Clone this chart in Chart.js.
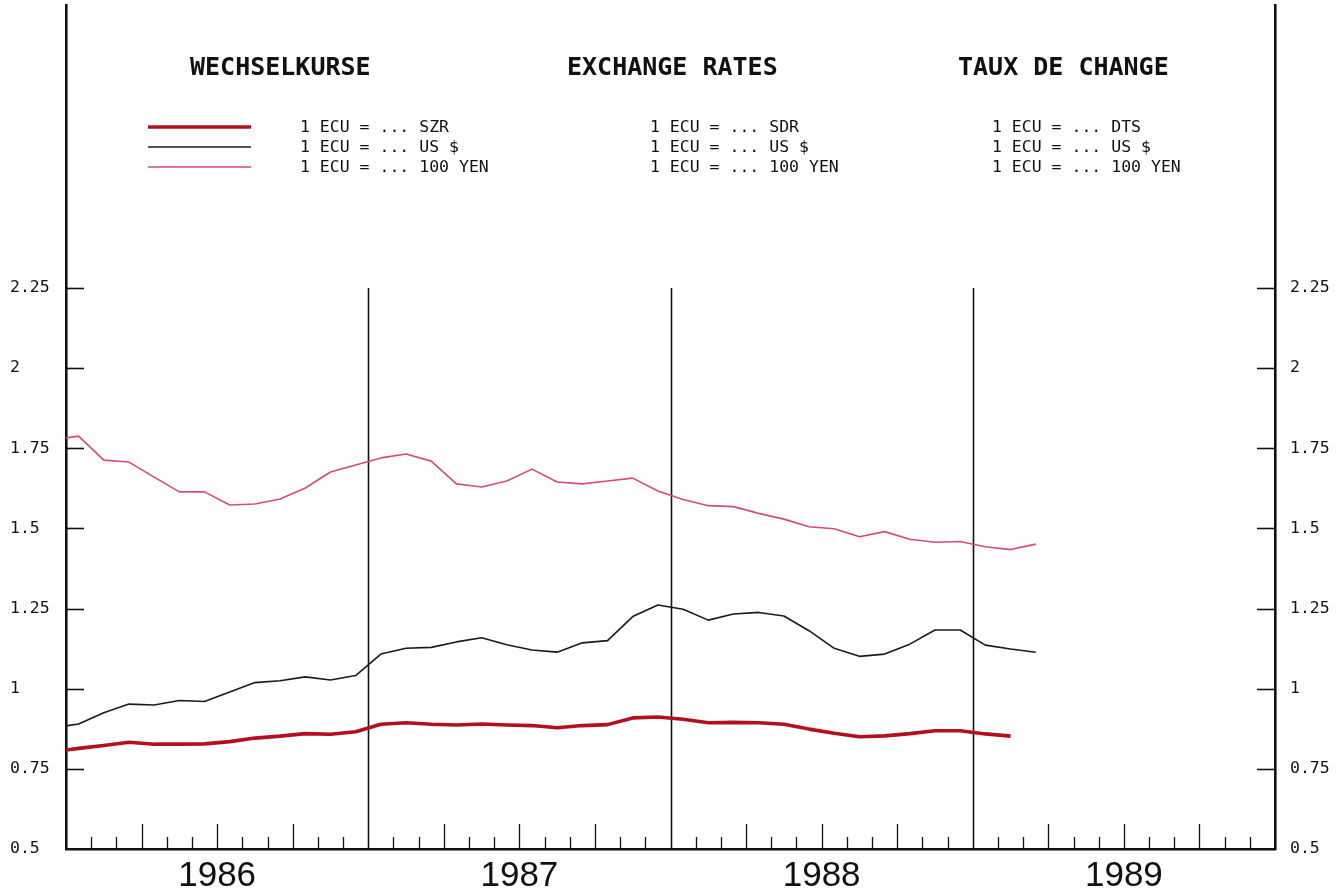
<!DOCTYPE html>
<html>
<head>
<meta charset="utf-8">
<script src="https://cdn.jsdelivr.net/npm/chart.js@4/dist/chart.umd.min.js"></script>
<style>
  html, body { margin: 0; padding: 0; background: #ffffff; }
  #wrap { width: 1344px; height: 894px; position: relative; }
</style>
</head>
<body>
<div id="wrap"><canvas id="c" width="1344" height="894"></canvas></div>
<script>
// ---- data (monthly, Dec 1985 .. Mar 1989; Dec 1985 lies just left of the axis) ----
const months = [
  'Dec 85',
  'Jan 86','Feb 86','Mar 86','Apr 86','May 86','Jun 86','Jul 86','Aug 86','Sep 86','Oct 86','Nov 86','Dec 86',
  'Jan 87','Feb 87','Mar 87','Apr 87','May 87','Jun 87','Jul 87','Aug 87','Sep 87','Oct 87','Nov 87','Dec 87',
  'Jan 88','Feb 88','Mar 88','Apr 88','May 88','Jun 88','Jul 88','Aug 88','Sep 88','Oct 88','Nov 88','Dec 88',
  'Jan 89','Feb 89','Mar 89'
];
const yen100 = [1.777,
  1.788,1.713,1.707,1.660,1.614,1.614,1.573,1.576,1.592,1.626,1.676,1.698,
  1.720,1.732,1.710,1.639,1.629,1.648,1.685,1.645,1.639,1.648,1.657,1.617,
  1.590,1.571,1.568,1.547,1.529,1.505,1.499,1.474,1.490,1.466,1.457,1.459,
  1.443,1.434,1.451];
const usd = [0.878,
  0.890,0.925,0.952,0.949,0.963,0.960,0.990,1.019,1.025,1.037,1.027,1.041,
  1.108,1.126,1.129,1.146,1.159,1.137,1.121,1.114,1.143,1.150,1.225,1.261,
  1.248,1.214,1.233,1.238,1.227,1.181,1.126,1.101,1.108,1.139,1.183,1.183,
  1.136,1.124,1.114];
const sdr = [0.804,
  0.814,0.823,0.833,0.827,0.827,0.828,0.835,0.846,0.852,0.860,0.858,0.866,
  0.889,0.894,0.889,0.887,0.890,0.887,0.885,0.878,0.885,0.888,0.909,0.912,
  0.905,0.894,0.895,0.894,0.889,0.874,0.861,0.850,0.853,0.860,0.869,0.869,
  0.859,0.852];
const years = ['1986','1987','1988','1989'];
const yTicks = [0.5, 0.75, 1, 1.25, 1.5, 1.75, 2, 2.25];
const titles = ['WECHSELKURSE', 'EXCHANGE RATES', 'TAUX DE CHANGE'];
const legendDE = ['1 ECU = ... SZR', '1 ECU = ... US $', '1 ECU = ... 100 YEN'];
const legendEN = ['1 ECU = ... SDR', '1 ECU = ... US $', '1 ECU = ... 100 YEN'];
const legendFR = ['1 ECU = ... DTS', '1 ECU = ... US $', '1 ECU = ... 100 YEN'];

// month index: Dec 85 -> -0.5 (mid-month), Jan 86 -> 0.5, ...
const toPts = arr => arr.map((v, i) => ({ x: i - 0.5, y: v }));

const COL_SDR = '#b3101c';
const COL_USD = '#1a1a1a';
const COL_YEN = '#cf4f6c';
const INK = '#111111';
const MONO = '"DejaVu Sans Mono", "Liberation Mono", monospace';

const noPad = s => { s.paddingTop = 0; s.paddingBottom = 0; s.paddingLeft = 0; s.paddingRight = 0; };

const decor = {
  id: 'decor',
  beforeDatasetsDraw(chart) {
    const { ctx, chartArea, scales } = chart;
    const x = scales.x, y = scales.y;
    ctx.save();
    ctx.strokeStyle = INK;
    ctx.lineCap = 'butt';
    // year separators
    ctx.lineWidth = 1.6;
    const top = y.getPixelForValue(2.25);
    for (let b = 12; b < 48; b += 12) {
      const px = Math.round(x.getPixelForValue(b)) + 0.5;
      ctx.beginPath(); ctx.moveTo(px, top); ctx.lineTo(px, chartArea.bottom); ctx.stroke();
    }
    // month ticks
    ctx.lineWidth = 1.3;
    for (let m = 1; m < 48; m++) {
      if (m % 12 === 0) continue;
      const len = (m % 3 === 0) ? 25 : 12;
      const px = Math.round(x.getPixelForValue(m)) + 0.5;
      ctx.beginPath(); ctx.moveTo(px, chartArea.bottom); ctx.lineTo(px, chartArea.bottom - len); ctx.stroke();
    }
    // inner value ticks on both sides
    ctx.lineWidth = 1.6;
    yTicks.forEach(v => {
      if (v === 0.5) return;
      const py = Math.round(y.getPixelForValue(v)) + 0.5;
      ctx.beginPath(); ctx.moveTo(chartArea.left, py); ctx.lineTo(chartArea.left + 18, py); ctx.stroke();
      ctx.beginPath(); ctx.moveTo(chartArea.right - 18, py); ctx.lineTo(chartArea.right, py); ctx.stroke();
    });
    ctx.restore();
  },
  afterDraw(chart) {
    const { ctx } = chart;
    ctx.save();
    ctx.fillStyle = INK;
    ctx.textBaseline = 'middle';
    ctx.textAlign = 'left';
    // titles
    ctx.font = 'bold 25px ' + MONO;
    const tx = [190, 567, 958];
    titles.forEach((t, i) => ctx.fillText(t, tx[i], 68));
    // legend texts
    ctx.font = '16.5px ' + MONO;
    const lx = [300, 650, 992];
    const rows = [128, 148, 168];
    [legendDE, legendEN, legendFR].forEach((col, ci) => {
      col.forEach((t, ri) => ctx.fillText(t, lx[ci], rows[ri]));
    });
    // legend line samples from dataset styles
    const ds = chart.data.datasets;
    ds.forEach((d, i) => {
      ctx.strokeStyle = d.borderColor;
      ctx.lineWidth = d.borderWidth;
      ctx.beginPath(); ctx.moveTo(148, rows[i] - 1); ctx.lineTo(251, rows[i] - 1); ctx.stroke();
    });
    ctx.restore();
  }
};

new Chart(document.getElementById('c'), {
  type: 'line',
  data: {
    datasets: [
      { label: legendEN[0], data: toPts(sdr), borderColor: COL_SDR, borderWidth: 3.6 },
      { label: legendEN[1], data: toPts(usd), borderColor: COL_USD, borderWidth: 1.6 },
      { label: legendEN[2], data: toPts(yen100), borderColor: COL_YEN, borderWidth: 1.6 }
    ]
  },
  options: {
    responsive: false,
    animation: false,
    devicePixelRatio: 1,
    layout: { padding: { top: 5, left: 10, right: 0, bottom: 0 } },
    elements: { point: { radius: 0 }, line: { tension: 0, borderJoinStyle: 'round', borderCapStyle: 'butt' } },
    plugins: { legend: { display: false }, tooltip: { enabled: false }, title: { display: false } },
    scales: {
      x: {
        type: 'linear', min: 0, max: 48,
        grid: { display: false, drawTicks: false },
        border: { display: true, color: INK, width: 2.6 },
        afterBuildTicks: s => { s.ticks = years.map((y, i) => ({ value: 6 + 12 * i })); },
        ticks: {
          autoSkip: false, maxRotation: 0, padding: 6, color: INK,
          font: { family: '"Liberation Sans", Arial, sans-serif', size: 35 },
          callback: (v) => years[Math.round((v - 6) / 12)]
        },
        afterFit: s => { s.height = 45; noPad(s); }
      },
      y: {
        position: 'left', min: 0.5, max: 3.1328,
        grid: { display: false, drawTicks: false },
        border: { display: true, color: INK, width: 2.6 },
        afterBuildTicks: s => { s.ticks = yTicks.map(v => ({ value: v })); },
        ticks: {
          crossAlign: 'far', padding: 0, color: INK,
          font: { family: MONO, size: 16.5 },
          callback: v => String(v)
        },
        afterFit: s => { s.width = 56; noPad(s); }
      },
      y2: {
        position: 'right', min: 0.5, max: 3.1328,
        grid: { display: false, drawTicks: false },
        border: { display: true, color: INK, width: 2.6 },
        afterBuildTicks: s => { s.ticks = yTicks.map(v => ({ value: v })); },
        ticks: {
          crossAlign: 'near', padding: 15, color: INK,
          font: { family: MONO, size: 16.5 },
          callback: v => String(v)
        },
        afterFit: s => { s.width = 69; noPad(s); }
      }
    }
  },
  plugins: [decor]
});
</script>
</body>
</html>
